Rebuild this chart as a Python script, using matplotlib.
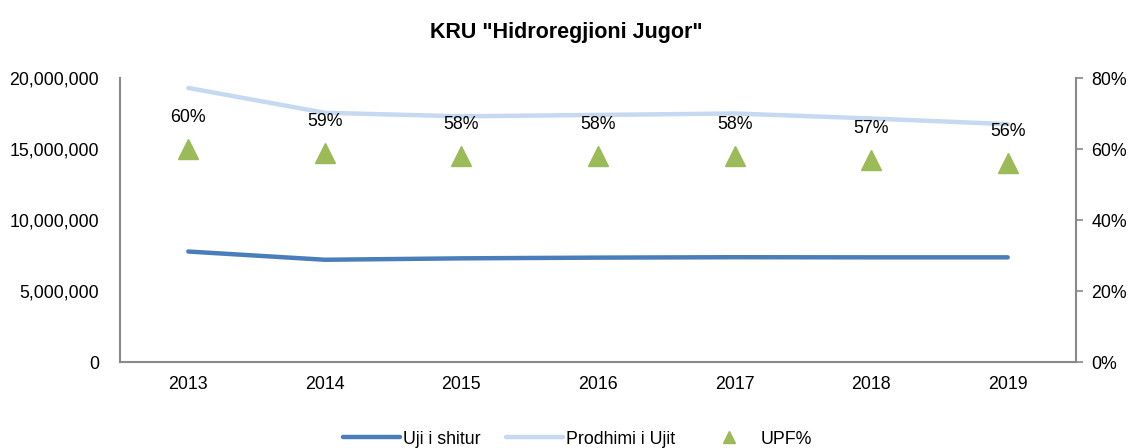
import matplotlib.pyplot as plt
from matplotlib.ticker import FuncFormatter
from matplotlib.lines import Line2D

plt.rcParams['font.family'] = ['Liberation Sans', 'DejaVu Sans']

years = ['2013', '2014', '2015', '2016', '2017', '2018', '2019']
uji_shitur = [7.78e6, 7.2e6, 7.3e6, 7.35e6, 7.38e6, 7.37e6, 7.37e6]
prodhimi = [19.3e6, 17.55e6, 17.3e6, 17.4e6, 17.5e6, 17.15e6, 16.75e6]
upf = [60, 59, 58, 58, 58, 57, 56]

dark_blue = '#4A7EBB'
light_blue = '#C6D9F1'
green = '#9BBB59'
grey = '#898989'
fs = 12.8

fig = plt.figure(figsize=(11.32, 4.48), dpi=100)
ax = fig.add_axes([120 / 1132, 1 - 362 / 448, (1076 - 120) / 1132, (362 - 78) / 448])
ax2 = ax.twinx()

x = range(len(years))
ax.plot(x, uji_shitur, color=dark_blue, lw=3.2, solid_capstyle='round', zorder=3)
ax.plot(x, prodhimi, color=light_blue, lw=3.2, solid_capstyle='round', zorder=2)
ax2.plot(x, upf, ls='none', marker='^', ms=15, color=green, mec=green)
for xi, v in zip(x, upf):
    ax2.annotate(f'{v}%', (xi, v), xytext=(0, 16.5), textcoords='offset points',
                 ha='center', va='bottom', fontsize=fs)

ax.set_xlim(-0.5, 6.5)
ax.set_ylim(0, 20e6)
ax.set_yticks([0, 5e6, 10e6, 15e6, 20e6])
ax.yaxis.set_major_formatter(FuncFormatter(lambda v, p: f'{int(v):,}'))
ax2.set_ylim(0, 80)
ax2.set_yticks([0, 20, 40, 60, 80])
ax2.yaxis.set_major_formatter(FuncFormatter(lambda v, p: f'{int(v)}%'))
ax.set_xticks(list(x))
ax.set_xticklabels(years)

for a in (ax, ax2):
    for s in a.spines.values():
        s.set_visible(False)
ax.spines['left'].set_visible(True)
ax.spines['bottom'].set_visible(True)
ax2.spines['right'].set_visible(True)
for s in (ax.spines['left'], ax.spines['bottom'], ax2.spines['right']):
    s.set_color(grey)
    s.set_linewidth(1.5)

ax.tick_params(axis='y', length=0, labelsize=fs, pad=15)
ax.tick_params(axis='x', length=0, labelsize=fs, pad=10)
ax2.tick_params(axis='y', length=5, color=grey, width=1.2, labelsize=fs, pad=6)

fig.suptitle('KRU "Hidroregjioni Jugor"', fontsize=15.5, fontweight='bold', y=0.952)

handles = [
    Line2D([], [], color=dark_blue, lw=3.2, solid_capstyle='round'),
    Line2D([], [], color=light_blue, lw=3.2, solid_capstyle='round'),
    Line2D([], [], ls='none', marker='^', ms=9, color=green),
]
fig.legend(handles, ['Uji i shitur', 'Prodhimi i Ujit', 'UPF%'], loc='lower center',
           bbox_to_anchor=(0.51, -0.035), ncol=3, frameon=False, fontsize=fs,
           handlelength=3.2, handletextpad=0.2, columnspacing=1.4)

fig.savefig('out.png', dpi=100)
